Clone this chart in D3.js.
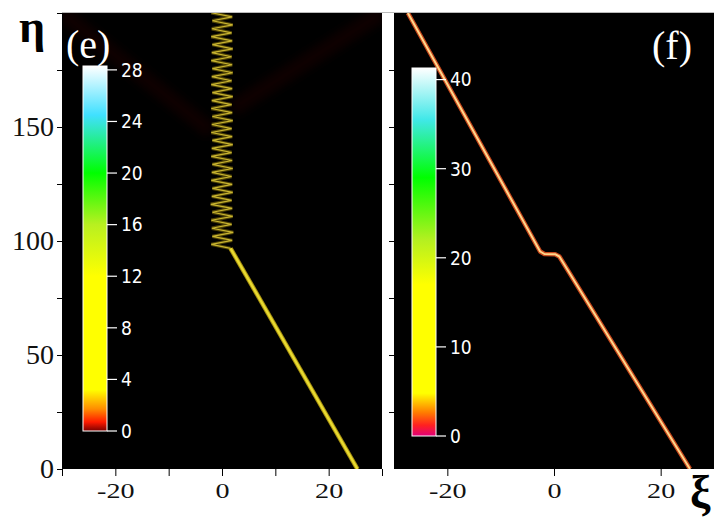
<!DOCTYPE html>
<html>
<head>
<meta charset="utf-8">
<script src="https://cdn.jsdelivr.net/npm/d3@7"></script>
<style>
  body { margin: 0; background: #fff; }
  svg { display: block; }
</style>
</head>
<body>
<svg id="chart" width="715" height="520"></svg>
<script>
// axes
var xiDomain = [-30, 30];
var etaDomain = [0, 200];
var etaTicks = [0, 25, 50, 75, 100, 125, 150, 175];
var etaLabels = [0, 50, 100, 150];
var xiTicksE = [-30, -20, -10, 0, 10, 20, 30];
var xiTicksF = [-20, 0, 20];
var xiLabels = [-20, 0, 20];

// panel (e): straight run, then oscillating (breathing) part
var trackE = [[25.4, 0], [1.6, 96.8]];
var zigEta = [96.8, 98.5, 100.3, 102.0, 103.8, 105.6, 107.3, 109.1, 110.8, 112.6, 114.3, 116.1,
  117.8, 119.6, 121.3, 123.1, 124.8, 126.6, 128.3, 130.1, 131.8, 133.6, 135.3, 137.1, 138.8,
  140.6, 142.3, 144.1, 145.8, 147.6, 149.3, 151.1, 152.8, 154.6, 156.3, 158.1, 159.8, 161.6,
  163.3, 165.1, 166.8, 168.6, 170.3, 172.1, 173.8, 175.6, 177.3, 179.1, 180.8, 182.6, 184.3,
  186.1, 187.8, 189.6, 191.3, 193.1, 194.8, 196.6, 198.3, 200.1];
var zigXi = [1.6, -2.0, 1.9, -1.8, 2.1, -1.9, 1.8, -2.0, 2.0, -1.8, 1.9, -2.1, 1.8, -1.9, 2.0,
  -1.8, 1.9, -2.0, 1.8, -1.9, 2.0, -1.8, 1.9, -2.0, 1.8, -1.9, 2.0, -1.8, 1.9, -2.0, 1.8, -1.9,
  2.0, -1.8, 1.9, -2.0, 1.8, -1.9, 2.0, -1.8, 1.9, -2.0, 1.8, -1.9, 2.0, -1.8, 1.9, -2.0, 1.8,
  -1.9, 2.0, -1.8, 1.9, -2.0, 1.8, -1.9, 2.0, -1.8, 1.9, -2.0];
var radLeft = [[-2, 148], [-30, 200]];
var radRight = [[2, 158], [30, 200]];

// panel (f): soliton passing through with a short step
var trackF = [[25.5, 0], [1.0, 93.2], [0.2, 94.2], [-1.8, 94.3], [-2.6, 95.4], [-27.4, 200]];

// colour bars
var barE = { max: 28.3, ticks: [0, 4, 8, 12, 16, 20, 24, 28] };
var stopsE = [0, 0.7, 1.7, 3.2, 12, 16, 20, 24.5, 28.3];
var coloursE = ['#7a0000', '#ff1a00', '#ff8c00', '#ffff00', '#ffff00', '#b8f020', '#00ff00', '#40e0ff', '#ffffff'];
var barF = { max: 41.3, ticks: [0, 10, 20, 30, 40] };
var stopsF = [0, 1.2, 2.6, 4.8, 17, 22, 29, 35.5, 41.3];
var coloursF = ['#e0007a', '#ff2020', '#ff7a00', '#ffff00', '#ffff00', '#b4f020', '#00ff00', '#40e8e8', '#ffffff'];

var svg = d3.select('#chart');
var y = d3.scaleLinear().domain(etaDomain).range([469, 13]);
var xE = d3.scaleLinear().domain(xiDomain).range([62, 382]);
var xF = d3.scaleLinear().domain(xiDomain).range([394, 714]);

var defs = svg.append('defs');
defs.append('filter').attr('id', 'blur').append('feGaussianBlur').attr('stdDeviation', 5);

function panel(x, id) {
  defs.append('clipPath').attr('id', id)
    .append('rect')
    .attr('x', x.range()[0]).attr('y', y.range()[1])
    .attr('width', x.range()[1] - x.range()[0])
    .attr('height', y.range()[0] - y.range()[1]);
  svg.append('rect')
    .attr('x', x.range()[0]).attr('y', y.range()[1])
    .attr('width', x.range()[1] - x.range()[0])
    .attr('height', y.range()[0] - y.range()[1])
    .style('fill', '#000');
  return svg.append('g').attr('clip-path', 'url(#' + id + ')');
}

var gE = panel(xE, 'clipE');
var gF = panel(xF, 'clipF');

var lineE = d3.line().x(function(d) { return xE(d[0]); }).y(function(d) { return y(d[1]); });
var lineF = d3.line().x(function(d) { return xF(d[0]); }).y(function(d) { return y(d[1]); });

// faint radiation, barely visible in the original
[radLeft, radRight].forEach(function(r) {
  gE.append('path').attr('d', lineE(r))
    .style('fill', 'none').style('stroke', '#2a0600').style('stroke-width', 16)
    .style('opacity', 0.35).attr('filter', 'url(#blur)');
});

var zig = zigEta.map(function(e, i) { return [zigXi[i], e]; });
gE.append('path').attr('d', lineE(zig))
  .style('fill', 'none').style('stroke', '#4e4206').style('stroke-width', 3.4);
gE.append('path').attr('d', lineE(zig))
  .style('fill', 'none').style('stroke', '#c8b430').style('stroke-width', 1.2);
gE.append('path').attr('d', lineE(trackE))
  .style('fill', 'none').style('stroke', '#a89010').style('stroke-width', 4.5);
gE.append('path').attr('d', lineE(trackE))
  .style('fill', 'none').style('stroke', '#e8da30').style('stroke-width', 2.5);

gF.append('path').attr('d', lineF(trackF))
  .style('fill', 'none').style('stroke', '#c8481c').style('stroke-width', 4.5)
  .style('stroke-linejoin', 'round');
gF.append('path').attr('d', lineF(trackF))
  .style('fill', 'none').style('stroke', '#ffd68a').style('stroke-width', 2)
  .style('stroke-linejoin', 'round');

// colour bars
function colourBar(bar, stops, colours, x0, y0, y1, id) {
  var s = d3.scaleLinear().domain([0, bar.max]).range([y0, y1]);
  var grad = defs.append('linearGradient').attr('id', id)
    .attr('x1', 0).attr('y1', 1).attr('x2', 0).attr('y2', 0);
  grad.selectAll('stop').data(stops).enter().append('stop')
    .attr('offset', function(d) { return d / bar.max; })
    .attr('stop-color', function(d, i) { return colours[i]; });
  svg.append('rect')
    .attr('x', x0).attr('y', s(bar.max))
    .attr('width', 24).attr('height', s(0) - s(bar.max))
    .style('fill', 'url(#' + id + ')')
    .style('stroke', '#fff').style('stroke-width', 1);
  var t = svg.append('g').selectAll('g').data(bar.ticks).enter().append('g')
    .attr('transform', function(d) { return 'translate(' + (x0 + 24) + ',' + s(d) + ')'; });
  t.append('line').attr('x1', 0).attr('x2', 10).style('stroke', '#fff').style('stroke-width', 1.2);
  t.append('text').attr('x', 14).attr('dy', '0.36em')
    .style('fill', '#fff')
    .style('font-family', '"Liberation Sans Narrow", "DejaVu Sans Condensed", sans-serif')
    .style('font-size', '19px')
    .text(function(d) { return d; });
}
colourBar(barE, stopsE, coloursE, 83, 431, 66, 'gradE');
colourBar(barF, stopsF, coloursF, 412, 436, 68, 'gradF');

// axes
var serif = '"Liberation Serif", "Times New Roman", serif';
var hy = function(d) { return xiLabels.indexOf(d) >= 0 ? String(d).replace('\u2212', '-') : ''; };

var axE = svg.append('g').attr('transform', 'translate(0,469)')
  .call(d3.axisBottom(xE).tickValues(xiTicksE).tickSize(7).tickFormat(hy));
var axF = svg.append('g').attr('transform', 'translate(0,469)')
  .call(d3.axisBottom(xF).tickValues(xiTicksF).tickSize(7).tickFormat(hy));
[axE, axF].forEach(function(a) {
  a.select('.domain').remove();
  // labels in the original are stretched sideways
  a.selectAll('text')
    .attr('y', 29).attr('dy', null)
    .attr('transform', 'scale(1.28,1)')
    .style('font-family', serif).style('font-size', '22px').style('fill', '#111');
});

var ayE = svg.append('g').attr('transform', 'translate(62,0)')
  .call(d3.axisLeft(y).tickValues(etaTicks).tickSize(5)
    .tickFormat(function(d) { return etaLabels.indexOf(d) >= 0 ? d : ''; }));
ayE.selectAll('text').style('font-family', serif).style('font-size', '28px').style('fill', '#111');
ayE.select('.domain').style('stroke', '#000');

var ayF = svg.append('g').attr('transform', 'translate(394,0)')
  .call(d3.axisLeft(y).tickValues(etaTicks.slice(1)).tickSize(5).tickFormat(''));
ayF.select('.domain').remove();

// top border line
svg.append('line').attr('x1', 62).attr('x2', 714).attr('y1', 12.5).attr('y2', 12.5)
  .style('stroke', '#bbb');

// panel tags and axis symbols
svg.append('text').attr('x', 66).attr('y', 58).text('(e)')
  .style('font-family', serif).style('font-size', '40px').style('fill', '#fff');
svg.append('text').attr('x', 652).attr('y', 59).text('(f)')
  .style('font-family', serif).style('font-size', '40px').style('fill', '#fff');
svg.append('text').attr('x', 19).attr('y', 42).text('\u03b7')
  .style('font-family', serif).style('font-size', '46px').style('font-weight', 'bold').style('fill', '#000');
svg.append('text').attr('x', 690).attr('y', 508).text('\u03be')
  .style('font-family', serif).style('font-size', '46px').style('font-weight', 'bold').style('fill', '#000');
</script>
</body>
</html>
